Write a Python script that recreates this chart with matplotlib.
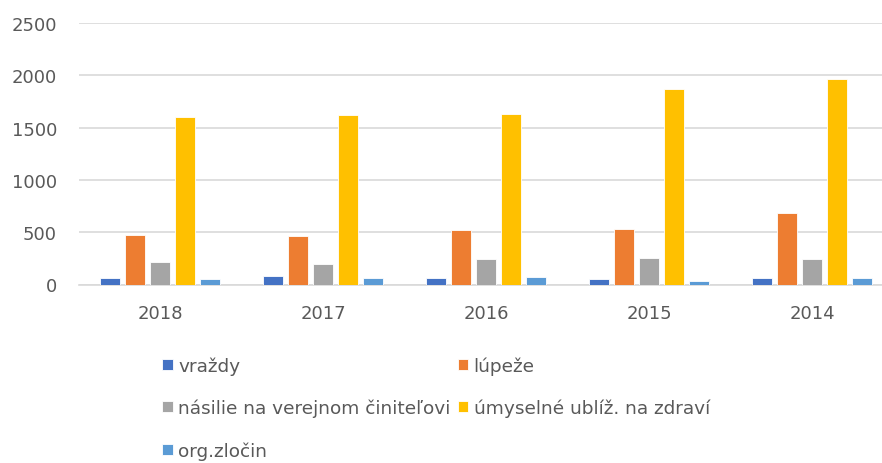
import numpy as np
import matplotlib.pyplot as plt

roky = ['2018', '2017', '2016', '2015', '2014']
vrazdy = [64, 80, 64, 48, 64]
lupeze = [478, 465, 523, 535, 685]
nasilie = [213, 200, 242, 255, 242]
umyselne = [1603, 1619, 1632, 1871, 1960]
org_zlocin = [48, 64, 76, 32, 64]

nazvy = ['vraždy', 'lúpeže', 'násilie na verejnom činiteľovi',
         'úmyselné ublíž. na zdraví', 'org.zločin']
farby = ['#4472C4', '#ED7D31', '#A5A5A5', '#FFC000', '#5B9BD5']
serie = [vrazdy, lupeze, nasilie, umyselne, org_zlocin]

fig = plt.figure(figsize=(8.82, 4.64), dpi=100)
ax = fig.add_axes([78.5 / 882, 178.5 / 464, 815 / 882, 261.5 / 464])

x = np.arange(len(roky))
sirka = 0.126
krok = 0.1535
bary = []
for i, (hodnoty, farba) in enumerate(zip(serie, farby)):
    b = ax.bar(x + (i - 2) * krok, hodnoty, sirka, color=farba,
               edgecolor='white', linewidth=0.6, zorder=3)
    bary.append(b)

ax.set_xlim(-0.5, len(roky) - 0.5)
ax.set_ylim(0, 2500)
ax.set_yticks(range(0, 2501, 500))
ax.set_xticks(x)
ax.set_xticklabels(roky)
ax.yaxis.grid(True, color='#D9D9D9', linewidth=1.2, zorder=0)
for s in ['top', 'right', 'left']:
    ax.spines[s].set_visible(False)
ax.spines['bottom'].set_color('#D9D9D9')
ax.spines['bottom'].set_linewidth(1.2)
ax.tick_params(axis='both', length=0, labelsize=13, colors='#595959')
ax.tick_params(axis='y', pad=15.5)
ax.tick_params(axis='x', pad=14)

# poradie po riadkoch ako v Exceli
poradie = [0, 2, 4, 1, 3]
leg = fig.legend([bary[i] for i in poradie], [nazvy[i] for i in poradie],
                 ncol=2, loc='upper left', bbox_to_anchor=(155 / 882, 1 - 350 / 464),
                 frameon=False, fontsize=13.3, handlelength=0.55, handleheight=0.55,
                 handletextpad=0.3, columnspacing=0.4, labelspacing=1.3,
                 borderaxespad=0, labelcolor='#595959')

fig.savefig('out.png', dpi=100)
